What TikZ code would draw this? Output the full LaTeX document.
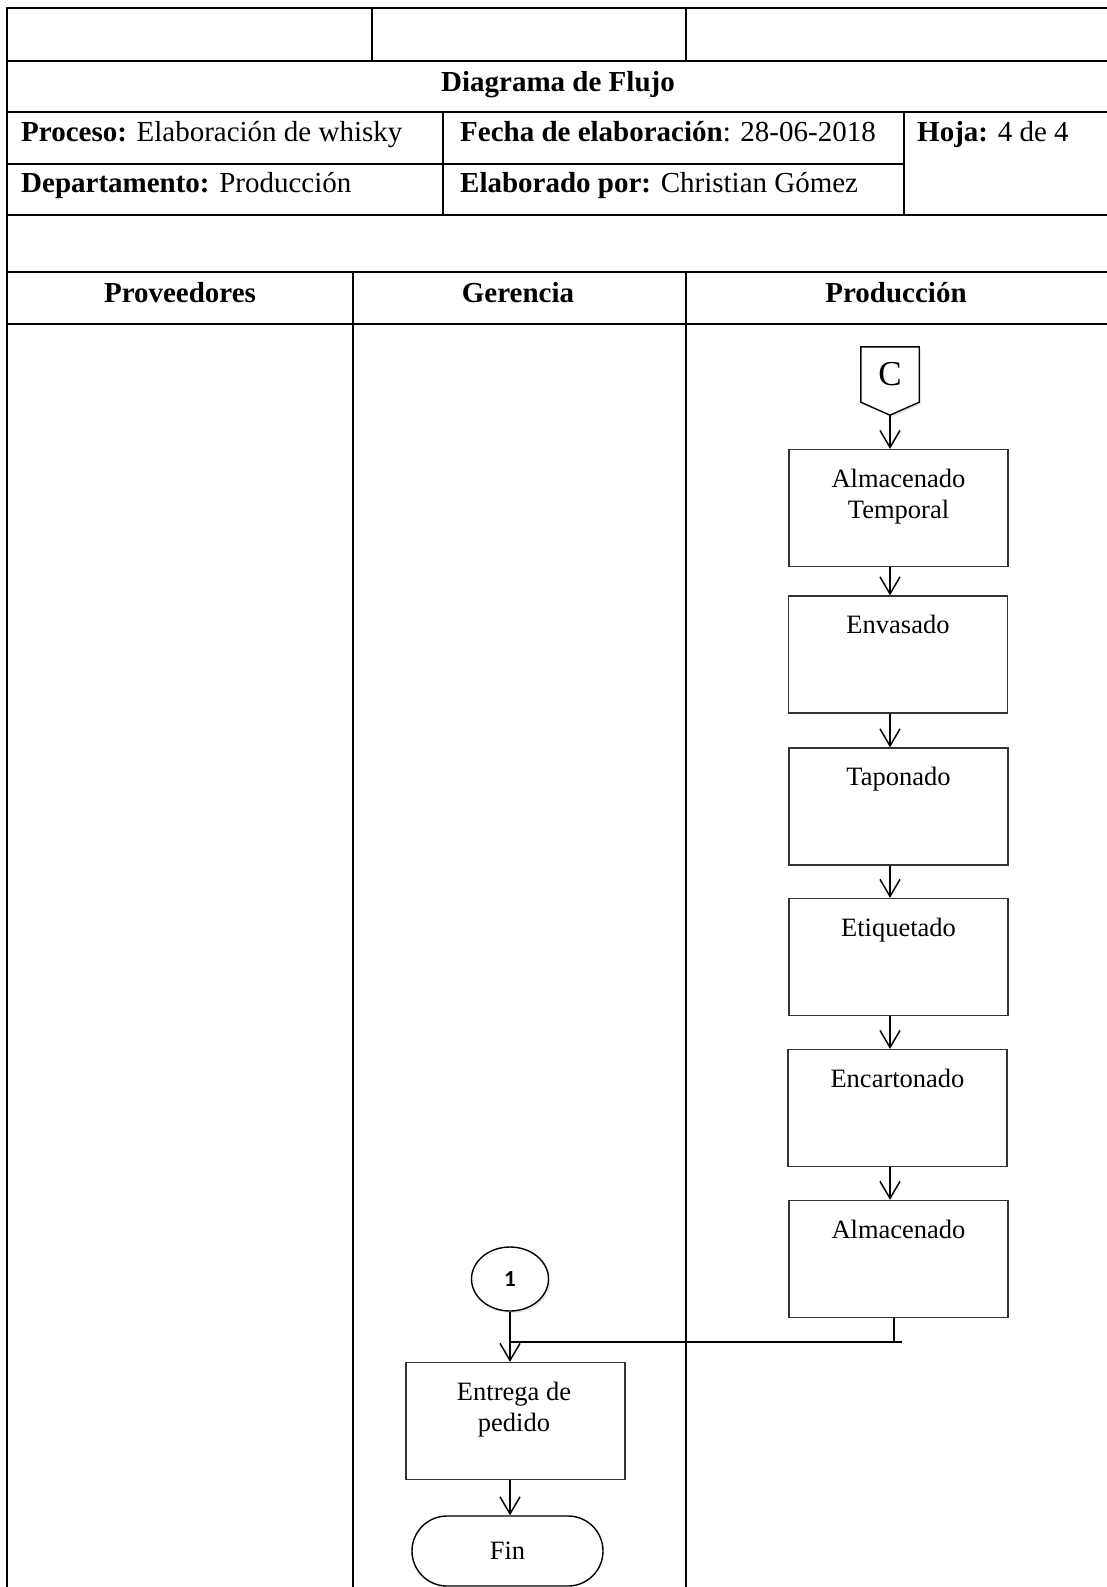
\documentclass[tikz,border=0pt]{standalone}
\usepackage{fontspec}
\setmainfont{Liberation Serif}
\newfontfamily\numfont{Carlito}
\usetikzlibrary{arrows.meta,shapes.geometric,shapes.misc,calc,shadows,backgrounds}

\begin{document}
\begin{tikzpicture}[x=1pt,y=-1pt,
  major rule/.style={line width=2.6pt, line cap=rect},
  minor rule/.style={line width=1.6pt},
  lane rule/.style={line width=2.3pt},
  hdr/.style={font=\fontsize{29}{34}\selectfont, inner sep=0pt},
  stepbox/.style={draw=black!80, line width=1.3pt, minimum width=219pt, minimum height=117pt, inner sep=0pt},
  boxtxt/.style={font=\fontsize{26.5}{31.5}\selectfont, align=center, anchor=north, inner sep=0pt},
  flow/.style={line width=1.5pt},
  arr/.style={flow, -{Straight Barb[length=17pt,width=20pt,line width=1.5pt]}},
  soft shadow/.style={drop shadow={opacity=0.18, shadow xshift=2pt, shadow yshift=-2pt}},
]
\useasboundingbox (0,0) rectangle (1106,1587);

% ---------- header table ----------
\draw[major rule] (7,8) -- (1106,8);
\draw[major rule] (7,61) -- (1106,61);
\draw[major rule] (7,112) -- (1106,112);
\draw[minor rule] (7,164) -- (904,164);
\draw[major rule] (7,215) -- (1106,215);
\draw[major rule] (7,272) -- (1106,272);
\draw[major rule] (7,324) -- (1106,324);
\draw[lane rule] (7,8) -- (7,1587);
\draw[minor rule] (372,8) -- (372,61);
\draw[minor rule] (686,8) -- (686,61);
\draw[lane rule] (443,112) -- (443,215);
\draw[lane rule] (904,112) -- (904,215);
\draw[lane rule] (353,272) -- (353,1587);
\draw[lane rule] (686,272) -- (686,1587);

\node[hdr, anchor=base] (title) at (558,92) {\textbf{Diagrama de Flujo}};
\node[hdr, anchor=base west] (proc) at (21,141) {\textbf{Proceso:} Elaboración de whisky};
\node[hdr, anchor=base west] (dept) at (21,192) {\textbf{Departamento:} Producción};
\node[hdr, anchor=base west] (fecha) at (460,141) {\textbf{Fecha de elaboración}: 28-06-2018};
\node[hdr, anchor=base west] (autor) at (460,192) {\textbf{Elaborado por:} Christian Gómez};
\node[hdr, anchor=base west] (hoja) at (917,141) {\textbf{Hoja:} 4 de 4};

\node[hdr, anchor=base] (laneA) at (180,302) {\textbf{Proveedores}};
\node[hdr, anchor=base] (laneB) at (518,302) {\textbf{Gerencia}};
\node[hdr, anchor=base] (laneC) at (896,302) {\textbf{Producción}};

% ---------- off-page connector C ----------
\node[minimum width=58pt, minimum height=55pt, inner sep=0pt] (C) at (890,374.5) {};
\coordinate (Ctip) at ($(C.south)+(0pt,-13pt)$);
\draw[line width=1.4pt, fill=white, soft shadow]
  (C.north west) -- (C.north east) -- (C.south east) -- (Ctip) -- (C.south west) -- cycle;
\node[font=\fontsize{35}{40}\selectfont, inner sep=0pt] (Ctxt) at (C.center) {C};

% ---------- process boxes ----------
\node[stepbox] (b1) at (898.5,508) {};
\node[stepbox] (b2) at (898,654.5) {};
\node[stepbox] (b3) at (898.5,806.5) {};
\node[stepbox] (b4) at (898.5,957) {};
\node[stepbox] (b5) at (897.5,1108) {};
\node[stepbox] (b6) at (898.5,1259) {};
\node[stepbox] (ent) at (515.5,1421) {};

\node[boxtxt] (b1t) at ($(b1.north)+(0pt,-18pt)$) {\rule{0pt}{20pt}Almacenado\\Temporal};
\node[boxtxt] (b2t) at ($(b2.north)+(0pt,-18pt)$) {\rule{0pt}{20pt}Envasado};
\node[boxtxt] (b3t) at ($(b3.north)+(0pt,-18pt)$) {\rule{0pt}{20pt}Taponado};
\node[boxtxt] (b4t) at ($(b4.north)+(0pt,-18pt)$) {\rule{0pt}{20pt}Etiquetado};
\node[boxtxt] (b5t) at ($(b5.north)+(0pt,-18pt)$) {\rule{0pt}{20pt}Encartonado};
\node[boxtxt] (b6t) at ($(b6.north)+(0pt,-18pt)$) {\rule{0pt}{20pt}Almacenado};
\node[boxtxt] (entt) at ($(ent.north)+(-1.5pt,-18pt)$) {\rule{0pt}{20pt}Entrega de\\pedido};

% ---------- on-page connector and terminator ----------
\node[ellipse, draw, line width=1.4pt, fill=white, soft shadow, minimum width=77pt,
      minimum height=64pt, inner sep=0pt, font=\numfont\bfseries\fontsize{23}{27}\selectfont] (one) at (510,1279) {1};
\node[rounded rectangle, draw, line width=1.4pt, minimum width=191pt, minimum height=70pt,
      inner sep=0pt, font=\fontsize{26.5}{31.5}\selectfont] (fin) at (507.5,1551) {\raisebox{-4pt}{Fin}};

% ---------- connectors ----------
\draw[arr] (Ctip) -- (Ctip |- b1.north);
\draw[arr] (b1.south -| Ctip) -- (b2.north -| Ctip);
\draw[arr] (b2.south -| Ctip) -- (b3.north -| Ctip);
\draw[arr] (b3.south -| Ctip) -- (b4.north -| Ctip);
\draw[arr] (b4.south -| Ctip) -- (b5.north -| Ctip);
\draw[arr] (b5.south -| Ctip) -- (b6.north -| Ctip);

\coordinate (jn) at (894,1342);
\coordinate (jend) at (902,1342);
\draw[flow] (b6.south -| jn) -- (jn);
\draw[flow] (jend) -- (jend -| one.south);
\draw[arr] (one.south) -- (one.south |- ent.north);
\draw[arr] (ent.south -| one.south) -- (fin.north -| one.south);
\end{tikzpicture}
\end{document}
